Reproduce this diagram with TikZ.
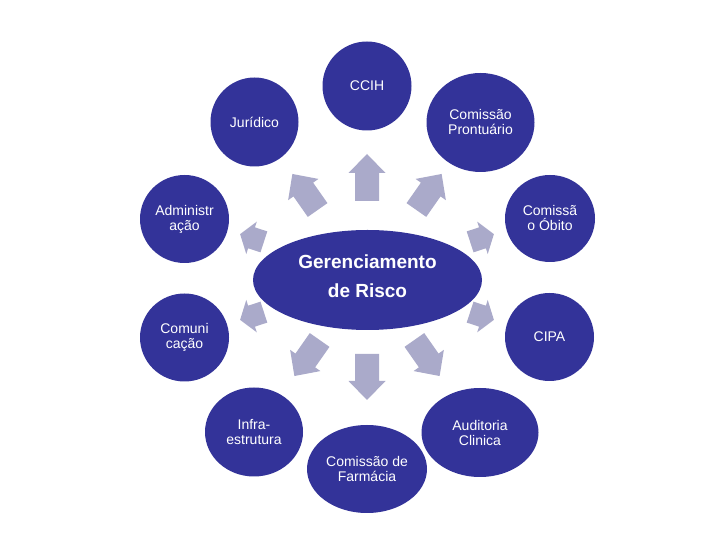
\documentclass[tikz,border=0pt]{standalone}
\usepackage{fontspec}
\setmainfont{Liberation Sans}
\usetikzlibrary{shapes.geometric}
\definecolor{nodeblue}{RGB}{51,51,153}
\definecolor{arrowgray}{RGB}{170,170,202}
% cx, cy, angle, length, shaft width, head width, head length
\newcommand{\bkarrow}[7]{%
  \begin{scope}[shift={(#1,#2)},rotate=#3]
    \fill[arrowgray] (-#4/2,-#5/2) -- ({#4/2-#7},-#5/2) -- ({#4/2-#7},-#6/2)
      -- (#4/2,0) -- ({#4/2-#7},#6/2) -- ({#4/2-#7},#5/2) -- (-#4/2,#5/2) -- cycle;
  \end{scope}}
\begin{document}
\begin{tikzpicture}[x=1pt,y=1pt,
  bubble/.style={ellipse, fill=nodeblue, text=white, inner sep=0pt,
    font=\fontsize{14}{15}\selectfont, align=center},
  hub/.style={ellipse, fill=nodeblue, text=white, inner sep=0pt,
    font=\fontsize{19}{29}\selectfont\bfseries, align=center}]
\fill[white] (0,0) rectangle (720,540);
\useasboundingbox (0,0) rectangle (720,540);

% central node
\node[hub, minimum width=229pt, minimum height=100pt] (hub) at (367.5,260) {};
\node[hub, fill=none] (hubtext) at (367.5,264) {Gerenciamento\\de Risco};

% surrounding nodes
\node[bubble, minimum width=89pt, minimum height=89pt] (ccih) at (367,454) {CCIH};
\node[bubble, minimum width=88pt, minimum height=89pt] (jur) at (254.5,418) {Jurídico};
\node[bubble, minimum width=108pt, minimum height=99pt] (pront) at (480.5,417.5) {Comissão\\Prontuário};
\node[bubble, minimum width=90pt, minimum height=87pt] (obito) at (550,321.5) {Comissã\\o Óbito};
\node[bubble, minimum width=89pt, minimum height=88pt] (cipa) at (549.5,203) {CIPA};
\node[bubble, minimum width=89pt, minimum height=88pt] (adm) at (184.5,321) {Administr\\ação};
\node[bubble, minimum width=89pt, minimum height=88pt] (com) at (184.5,202.5) {Comuni\\cação};
\node[bubble, minimum width=98pt, minimum height=89pt] (infra) at (254,108) {Infra-\\estrutura};
\node[bubble, minimum width=120pt, minimum height=88pt] (farm) at (367,71) {Comissão de\\Farmácia};
\node[bubble, minimum width=117pt, minimum height=89pt] (aud) at (480,107.5) {Auditoria\\Clinica};

% block arrows
\bkarrow{367}{362.5}{90}{47}{24}{37}{19}
\bkarrow{367}{163}{270}{46}{24}{37}{19}
\bkarrow{305}{348}{125}{44}{24}{37}{19}
\bkarrow{429}{348}{55}{44}{24}{37}{19}
\bkarrow{307}{182}{235}{44}{24}{37}{19}
\bkarrow{427}{182}{-55}{44}{24}{37}{19}
\bkarrow{482}{302}{18}{25}{22}{34}{12}
\bkarrow{482}{224}{-18}{25}{22}{34}{12}
\bkarrow{252}{302}{162}{25}{22}{34}{12}
\bkarrow{252}{224}{198}{25}{22}{34}{12}
\end{tikzpicture}
\end{document}
